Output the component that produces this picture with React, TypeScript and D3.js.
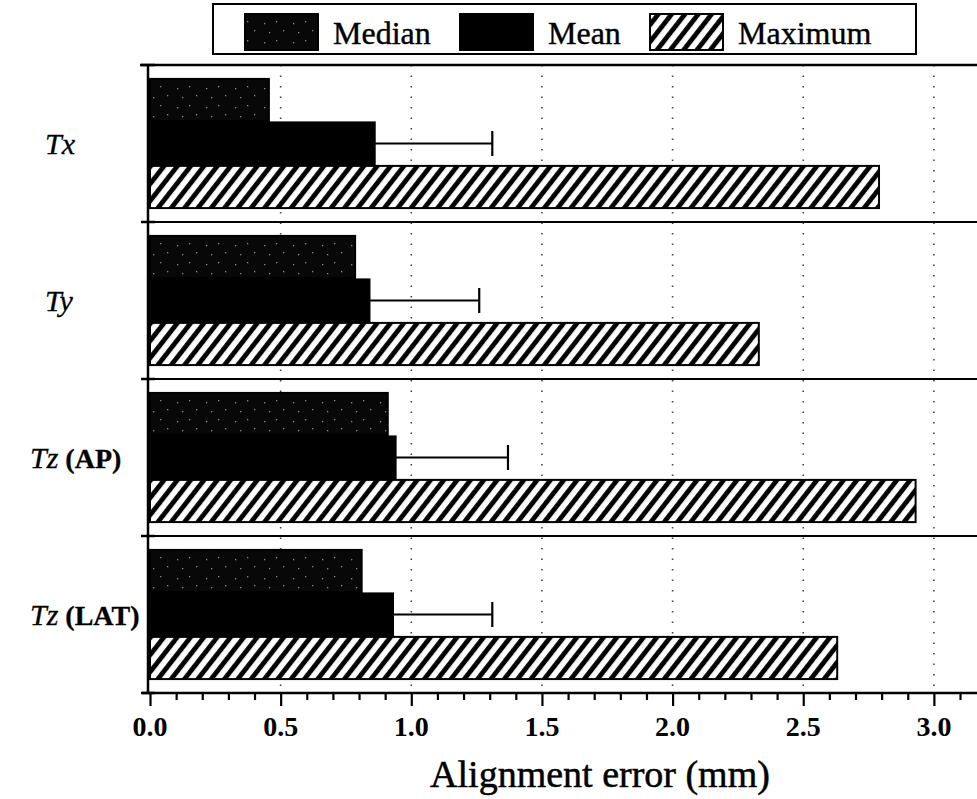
import React, { useEffect, useRef } from "react";
import * as d3 from "d3";

// values (mm)
const categories = ["Tx", "Ty", "Tz (AP)", "Tz (LAT)"];
const series = ["Median", "Mean", "Maximum"];
const medianValues = [0.455, 0.785, 0.91, 0.81];
const meanValues = [0.86, 0.84, 0.94, 0.93];
const meanErrorTop = [1.31, 1.26, 1.37, 1.31];
const maximumValues = [2.79, 2.33, 2.93, 2.63];
const xTickLabels = ["0.0", "0.5", "1.0", "1.5", "2.0", "2.5", "3.0"];

const W = 977;
const H = 799;
const FONT = "'Liberation Serif', 'Times New Roman', serif";

export default function App() {
    const ref = useRef<SVGSVGElement>(null);

    useEffect(() => {
        drawChart();
    }, []);

    function drawChart() {
        const svg = d3.select(ref.current);
        svg.selectAll("*").remove();

        const plotTop = 65;
        const plotBottom = 693;
        const axisX = 148;

        const x = d3.scaleLinear().domain([0, 3.165]).range([150, W]);
        const y = d3.scaleBand().domain(categories).range([plotTop, plotBottom]);
        const inner = d3
            .scaleBand()
            .domain(series)
            .range([0, y.bandwidth()])
            .paddingInner(0.03)
            .paddingOuter(0.32);

        // patterns
        const defs = svg.append("defs");
        const hatch = defs
            .append("pattern")
            .attr("id", "hatch")
            .attr("patternUnits", "userSpaceOnUse")
            .attr("width", 10.5)
            .attr("height", 10.5)
            .attr("patternTransform", "rotate(38)");
        hatch.append("rect").attr("width", 10.5).attr("height", 10.5).attr("fill", "#fff");
        hatch
            .append("line")
            .attr("x1", 2.5)
            .attr("x2", 2.5)
            .attr("y1", 0)
            .attr("y2", 10.5)
            .attr("stroke", "#000")
            .attr("stroke-width", 4.8);

        const speck = defs
            .append("pattern")
            .attr("id", "speck")
            .attr("patternUnits", "userSpaceOnUse")
            .attr("width", 29)
            .attr("height", 19);
        speck.append("rect").attr("width", 29).attr("height", 19).attr("fill", "#080808");
        [
            [3, 4],
            [15, 2],
            [22, 11],
            [8, 13],
        ].forEach(([cx, cy]) => {
            speck
                .append("rect")
                .attr("x", cx)
                .attr("y", cy)
                .attr("width", 1.3)
                .attr("height", 1.3)
                .attr("fill", "#8a8a8a");
        });

        const fills: Record<string, string> = {
            Median: "url(#speck)",
            Mean: "#000",
            Maximum: "url(#hatch)",
        };
        const valuesBySeries: Record<string, number[]> = {
            Median: medianValues,
            Mean: meanValues,
            Maximum: maximumValues,
        };

        // dotted vertical grid
        svg.append("g")
            .selectAll("line")
            .data(x.ticks(7).filter((d) => d > 0))
            .enter()
            .append("line")
            .attr("x1", (d) => x(d))
            .attr("x2", (d) => x(d))
            .attr("y1", plotTop)
            .attr("y2", plotBottom)
            .attr("stroke", "#444")
            .attr("stroke-width", 1.6)
            .attr("stroke-dasharray", "1.5,9");

        // group dividers
        svg.append("g")
            .selectAll("line")
            .data(categories.slice(1))
            .enter()
            .append("line")
            .attr("x1", axisX)
            .attr("x2", W)
            .attr("y1", (d) => y(d)!)
            .attr("y2", (d) => y(d)!)
            .attr("stroke", "#000")
            .attr("stroke-width", 1.8);

        // top frame line
        svg.append("line")
            .attr("x1", 140)
            .attr("x2", W)
            .attr("y1", plotTop)
            .attr("y2", plotTop)
            .attr("stroke", "#000")
            .attr("stroke-width", 2.5);

        // bars
        const groups = svg
            .append("g")
            .selectAll("g")
            .data(categories)
            .enter()
            .append("g")
            .attr("transform", (d) => `translate(0, ${y(d)})`);

        series.forEach((s) => {
            groups
                .append("rect")
                .attr("x", x(0))
                .attr("y", inner(s)!)
                .attr("width", (_, i) => x(valuesBySeries[s][i]) - x(0))
                .attr("height", inner.bandwidth())
                .attr("fill", fills[s])
                .attr("stroke", "#000")
                .attr("stroke-width", 2);
        });

        // error bars on mean
        const eyc = inner("Mean")! + inner.bandwidth() / 2;
        groups
            .append("line")
            .attr("x1", (_, i) => x(meanValues[i]))
            .attr("x2", (_, i) => x(meanErrorTop[i]))
            .attr("y1", eyc)
            .attr("y2", eyc)
            .attr("stroke", "#000")
            .attr("stroke-width", 2.2);
        groups
            .append("line")
            .attr("x1", (_, i) => x(meanErrorTop[i]))
            .attr("x2", (_, i) => x(meanErrorTop[i]))
            .attr("y1", eyc - 12.5)
            .attr("y2", eyc + 12.5)
            .attr("stroke", "#000")
            .attr("stroke-width", 2.2);

        // left axis
        svg.append("line")
            .attr("x1", axisX)
            .attr("x2", axisX)
            .attr("y1", plotTop)
            .attr("y2", plotBottom)
            .attr("stroke", "#000")
            .attr("stroke-width", 2.5);
        const boundaries = categories.map((c) => y(c)!).concat([plotBottom]);
        svg.append("g")
            .selectAll("line")
            .data(boundaries)
            .enter()
            .append("line")
            .attr("x1", axisX - 7)
            .attr("x2", axisX + 7)
            .attr("y1", (d) => d)
            .attr("y2", (d) => d)
            .attr("stroke", "#000")
            .attr("stroke-width", 2.5);

        // category labels
        const catText = svg
            .append("g")
            .selectAll("text")
            .data(categories)
            .enter()
            .append("text")
            .attr("x", (d) => (d.includes(" ") ? 30 : 45))
            .attr("y", (d) => y(d)! + y.bandwidth() / 2 + 10)
            .attr("font-family", FONT)
            .attr("font-size", 30)
            .attr("fill", "#000")
            .attr("stroke", "#000")
            .attr("stroke-width", 0.3);
        catText
            .append("tspan")
            .attr("font-style", "italic")
            .text((d) => d.split(" ")[0]);
        catText
            .append("tspan")
            .attr("font-weight", "bold")
            .attr("font-size", 28)
            .text((d) => (d.includes(" ") ? " " + d.split(" ").slice(1).join(" ") : ""));

        // bottom axis
        const axis = d3
            .axisBottom(x)
            .tickValues(d3.range(0, 32).map((i) => i / 10))
            .tickSizeInner(7)
            .tickSizeOuter(0)
            .tickFormat(() => "");
        const gx = svg
            .append("g")
            .attr("transform", `translate(0, ${plotBottom})`)
            .call(axis);
        gx.select(".domain")
            .attr("d", `M${axisX - 6},0H${W}`)
            .attr("stroke-width", 2.5);
        gx.selectAll(".tick line")
            .attr("stroke-width", 2.2)
            .attr("y2", (d: any) => (Math.round(d * 10) % 5 === 0 ? 13 : 7));

        svg.append("g")
            .selectAll("text")
            .data(xTickLabels)
            .enter()
            .append("text")
            .attr("x", (d) => x(+d))
            .attr("y", 736)
            .attr("text-anchor", "middle")
            .attr("font-family", FONT)
            .attr("font-size", 28)
            .attr("font-weight", "bold")
            .attr("fill", "#000")
            .text((d) => d);

        svg.append("text")
            .attr("x", 600)
            .attr("y", 787)
            .attr("text-anchor", "middle")
            .attr("font-family", FONT)
            .attr("font-size", 38)
            .attr("fill", "#000")
            .attr("stroke", "#000")
            .attr("stroke-width", 0.5)
            .text("Alignment error (mm)");

        // legend
        const legend = svg.append("g");
        legend
            .append("rect")
            .attr("x", 213)
            .attr("y", 4)
            .attr("width", 703)
            .attr("height", 50)
            .attr("fill", "#fff")
            .attr("stroke", "#000")
            .attr("stroke-width", 2);
        const legendX = d3.scaleOrdinal<string, number>().domain(series).range([245, 460, 650]);
        series.forEach((s) => {
            legend
                .append("rect")
                .attr("x", legendX(s))
                .attr("y", 14)
                .attr("width", 73)
                .attr("height", 36)
                .attr("fill", fills[s])
                .attr("stroke", "#000")
                .attr("stroke-width", 2);
            legend
                .append("text")
                .attr("x", legendX(s) + 88)
                .attr("y", 44)
                .attr("font-family", FONT)
                .attr("font-size", 32)
                .attr("fill", "#000")
                .attr("stroke", "#000")
                .attr("stroke-width", 0.4)
                .text(s);
        });
    }

    return (
        <svg
            ref={ref}
            width={W}
            height={H}
            style={{ position: "absolute", left: 0, top: 0, background: "#fff" }}
        />
    );
}
